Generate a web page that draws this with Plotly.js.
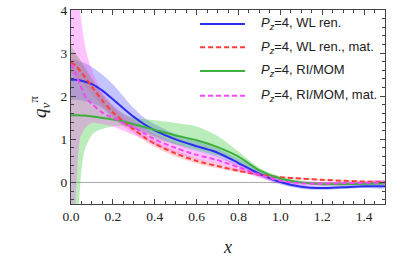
<!DOCTYPE html>
<html>
<head>
<meta charset="utf-8">
<script src="https://cdn.plot.ly/plotly-3.0.1.min.js"></script>
<style>html,body{margin:0;padding:0;background:#fff;}#chart{width:415px;height:257px;}</style>
</head>
<body>
<div id="chart"></div>
<script>
// ---- data ----
const seriesNames = [
  '<i>P</i><sub><i>z</i></sub>=4, WL ren.',
  '<i>P</i><sub><i>z</i></sub>=4, WL ren., mat.',
  '<i>P</i><sub><i>z</i></sub>=4, RI/MOM',
  '<i>P</i><sub><i>z</i></sub>=4, RI/MOM, mat.'
];

// WL ren. (blue) and WL ren., mat. (red) share this grid
const xWL = [0, 0.02, 0.05, 0.1, 0.15, 0.2, 0.25, 0.3, 0.35, 0.4, 0.5, 0.6, 0.7, 0.8, 0.9, 1.0, 1.1, 1.2, 1.3, 1.4, 1.5];
const wlCenter = [2.38, 2.38, 2.36, 2.28, 2.13, 1.93, 1.72, 1.52, 1.35, 1.21, 1.0, 0.84, 0.69, 0.45, 0.2, 0.01, -0.1, -0.13, -0.11, -0.09, -0.09];
const wlUpper  = [2.85, 2.84, 2.8, 2.68, 2.5, 2.28, 2.0, 1.72, 1.5, 1.35, 1.12, 0.95, 0.79, 0.55, 0.28, 0.07, -0.05, -0.09, -0.07, -0.05, -0.05];
const wlLower  = [1.92, 1.92, 1.9, 1.84, 1.72, 1.52, 1.33, 1.24, 1.17, 1.07, 0.88, 0.73, 0.59, 0.36, 0.13, -0.05, -0.15, -0.17, -0.15, -0.13, -0.13];

const wlMatCenter = [2.78, 2.72, 2.55, 2.22, 1.9, 1.63, 1.41, 1.23, 1.05, 0.9, 0.67, 0.5, 0.38, 0.27, 0.18, 0.12, 0.09, 0.06, 0.04, 0.02, 0.01];
const wlMatUpper  = [3.02, 2.96, 2.77, 2.40, 2.04, 1.75, 1.51, 1.32, 1.13, 0.97, 0.74, 0.56, 0.43, 0.31, 0.21, 0.15, 0.11, 0.08, 0.06, 0.04, 0.03];
const wlMatLower  = [2.54, 2.48, 2.33, 2.04, 1.76, 1.51, 1.31, 1.14, 0.97, 0.83, 0.60, 0.44, 0.33, 0.23, 0.15, 0.09, 0.07, 0.04, 0.02, 0.00, -0.01];

// RI/MOM (green)
const xRI = [0, 0.02, 0.038, 0.05, 0.065, 0.1, 0.13, 0.2, 0.26, 0.3, 0.4, 0.5, 0.6, 0.7, 0.8, 0.9, 1.0, 1.1, 1.2, 1.3, 1.4, 1.5];
const riCenter = [1.56, 1.56, 1.56, 1.55, 1.55, 1.53, 1.51, 1.46, 1.40, 1.35, 1.22, 1.09, 0.98, 0.82, 0.6, 0.28, 0.09, 0.0, -0.04, -0.04, -0.03, -0.02];
const riUpper  = [3.2, 3.0, 2.9, 2.8, 2.7, 2.4, 2.15, 1.78, 1.56, 1.5, 1.44, 1.38, 1.3, 1.08, 0.72, 0.34, 0.13, 0.04, 0.0, 0.0, 0.0, 0.01];
const riLower  = [-4, -2, -0.5, 0.28, 0.74, 1.1, 1.21, 1.3, 1.31, 1.25, 1.02, 0.88, 0.76, 0.63, 0.47, 0.2, 0.05, -0.03, -0.07, -0.07, -0.06, -0.05];

// RI/MOM, mat. (magenta)
const xRIMat = [0, 0.02, 0.045, 0.07, 0.1, 0.15, 0.2, 0.25, 0.3, 0.35, 0.4, 0.5, 0.6, 0.7, 0.8, 0.9, 1.0, 1.1, 1.2, 1.3, 1.4, 1.5];
const riMatCenter = [2.75, 2.55, 2.25, 1.98, 1.82, 1.62, 1.5, 1.38, 1.28, 1.14, 1.0, 0.8, 0.64, 0.52, 0.35, 0.18, 0.04, -0.02, -0.03, -0.02, -0.01, 0.0];
const riMatUpper  = [6, 4.6, 3.9, 3.1, 2.6, 2.1, 1.8, 1.6, 1.45, 1.28, 1.13, 0.91, 0.74, 0.61, 0.43, 0.25, 0.1, 0.03, 0.02, 0.02, 0.03, 0.04];
const riMatLower  = [-1.5, -0.5, 1.05, 1.28, 1.38, 1.35, 1.3, 1.2, 1.1, 1.0, 0.87, 0.69, 0.54, 0.43, 0.27, 0.11, -0.02, -0.07, -0.08, -0.07, -0.05, -0.04];

// ---- styling ----
const lineColors = ['rgb(45,45,240)', 'rgb(250,60,60)', 'rgb(60,175,60)', 'rgb(245,70,245)'];
const bandColors = ['rgba(60,60,255,0.30)', 'rgba(255,60,60,0.25)', 'rgba(60,200,60,0.35)', 'rgba(255,60,255,0.30)'];
const dashes = ['solid', '5px,3px', 'solid', '5px,3px'];

function band(x, up, lo, i) {
  return {
    x: x.concat(x.slice().reverse()),
    y: up.concat(lo.slice().reverse()),
    type: 'scatter', mode: 'lines', fill: 'toself',
    fillcolor: bandColors[i], line: {width: 0, color: 'rgba(0,0,0,0)', shape: 'spline', smoothing: 0.8},
    hoverinfo: 'skip', showlegend: false
  };
}
function line(x, y, i) {
  return {
    x: x, y: y, type: 'scatter', mode: 'lines', name: seriesNames[i],
    showlegend: false,
    line: {color: lineColors[i], width: 2, dash: dashes[i], shape: 'spline', smoothing: 0.8}
  };
}

const traces = [
  band(xWL, wlUpper, wlLower, 0),
  band(xWL, wlMatUpper, wlMatLower, 1),
  band(xRI, riUpper, riLower, 2),
  band(xRIMat, riMatUpper, riMatLower, 3),
  line(xWL, wlCenter, 0),
  line(xWL, wlMatCenter, 1),
  line(xRI, riCenter, 2),
  line(xRIMat, riMatCenter, 3)
];

// legend drawn as paper-positioned samples + text
const legendRowY = [0.928, 0.808, 0.686, 0.558];
const shapes = [], annotations = [];
seriesNames.forEach((name, i) => {
  shapes.push({type: 'line', xref: 'paper', yref: 'paper', x0: 0.411, x1: 0.554,
    y0: legendRowY[i], y1: legendRowY[i],
    line: {color: lineColors[i], width: 2, dash: dashes[i]}});
  annotations.push({xref: 'paper', yref: 'paper', x: 0.6, y: legendRowY[i],
    xanchor: 'left', yanchor: 'middle', showarrow: false, text: name,
    font: {family: 'Liberation Sans, Arial, sans-serif', size: 13, color: '#222'}});
});

const serif = 'Liberation Serif, Times New Roman, serif';
const axisCommon = {
  showgrid: false, showline: true, linecolor: '#444', linewidth: 1, mirror: 'ticks',
  ticks: 'inside', ticklen: 5, tickwidth: 1, tickcolor: '#444',
  tickfont: {family: serif, size: 13.5, color: '#222'}
};

const layout = {
  width: 415, height: 257,
  margin: {l: 71, r: 30, t: 10, b: 53},
  paper_bgcolor: '#fff', plot_bgcolor: '#fff',
  showlegend: false,
  shapes: shapes,
  annotations: annotations,
  xaxis: Object.assign({}, axisCommon, {
    range: [0, 1.5], dtick: 0.2, tick0: 0, tickformat: '.1f', zeroline: false,
    minor: {dtick: 0.05, ticks: 'inside', ticklen: 3, tickcolor: '#444'},
    title: {text: '<i>x</i>', font: {family: serif, size: 18, color: '#222'}, standoff: 17}
  }),
  yaxis: Object.assign({}, axisCommon, {
    range: [-0.5, 4], dtick: 1, tick0: 0,
    zeroline: true, zerolinecolor: '#aaa', zerolinewidth: 1,
    minor: {dtick: 0.2, ticks: 'inside', ticklen: 3, tickcolor: '#444'},
    title: {text: '<i>q</i><sub><i>v</i></sub><sup>π</sup>', font: {family: serif, size: 19, color: '#222'}, standoff: 8}
  })
};

Plotly.newPlot('chart', traces, layout, {staticPlot: true, displayModeBar: false});
</script>
</body>
</html>
